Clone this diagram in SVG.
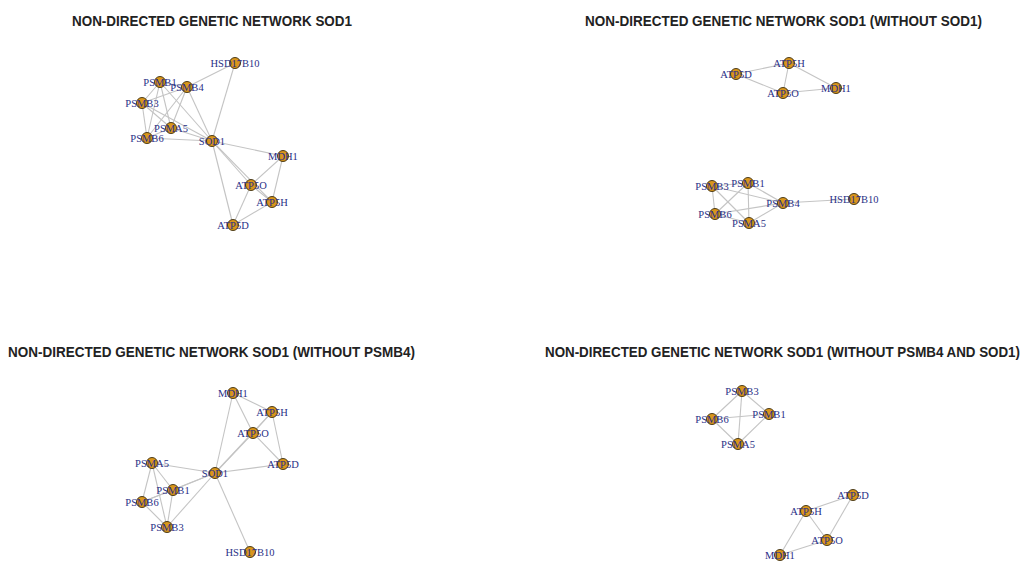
<svg xmlns="http://www.w3.org/2000/svg" width="1024" height="564" viewBox="0 0 1024 564">
<style>
.t{font-family:"Liberation Sans",Arial,sans-serif;font-weight:bold;font-size:15px;fill:#222}
.e line{stroke:#c4c4c4;stroke-width:1.1}
.n circle{fill:#D9961C;stroke:#3a2a08;stroke-width:0.9}
.n text{font-family:"Liberation Serif","Times New Roman",serif;font-size:10.5px;fill:#2a2f86;text-anchor:middle;dominant-baseline:central}
</style>
<rect width="1024" height="564" fill="#fff"/>
<text class="t" x="72" y="26" textLength="280" lengthAdjust="spacingAndGlyphs">NON-DIRECTED GENETIC NETWORK SOD1</text>
<text class="t" x="585" y="26" textLength="397" lengthAdjust="spacingAndGlyphs">NON-DIRECTED GENETIC NETWORK SOD1 (WITHOUT SOD1)</text>
<text class="t" x="8" y="357" textLength="407" lengthAdjust="spacingAndGlyphs">NON-DIRECTED GENETIC NETWORK SOD1 (WITHOUT PSMB4)</text>
<text class="t" x="545" y="357" textLength="475" lengthAdjust="spacingAndGlyphs">NON-DIRECTED GENETIC NETWORK SOD1 (WITHOUT PSMB4 AND SOD1)</text>

<g id="connectors" class="e">
<!-- panel 1 -->
<line x1="160" y1="82" x2="187" y2="87"/><line x1="160" y1="82" x2="142" y2="103"/>
<line x1="160" y1="82" x2="171" y2="128"/><line x1="160" y1="82" x2="147" y2="138"/>
<line x1="160" y1="82" x2="212" y2="141"/><line x1="187" y1="87" x2="142" y2="103"/>
<line x1="187" y1="87" x2="171" y2="128"/><line x1="187" y1="87" x2="147" y2="138"/>
<line x1="187" y1="87" x2="212" y2="141"/><line x1="187" y1="87" x2="235" y2="63"/>
<line x1="142" y1="103" x2="171" y2="128"/><line x1="142" y1="103" x2="147" y2="138"/>
<line x1="142" y1="103" x2="212" y2="141"/><line x1="171" y1="128" x2="147" y2="138"/>
<line x1="171" y1="128" x2="212" y2="141"/><line x1="147" y1="138" x2="212" y2="141"/>
<line x1="235" y1="63" x2="212" y2="141"/><line x1="212" y1="141" x2="283" y2="156"/>
<line x1="212" y1="141" x2="251" y2="185"/><line x1="212" y1="141" x2="272" y2="202"/>
<line x1="212" y1="141" x2="233" y2="225"/><line x1="283" y1="156" x2="251" y2="185"/>
<line x1="283" y1="156" x2="272" y2="202"/><line x1="251" y1="185" x2="272" y2="202"/>
<line x1="251" y1="185" x2="233" y2="225"/><line x1="272" y1="202" x2="233" y2="225"/>
<!-- panel 2 -->
<line x1="736" y1="74" x2="789" y2="63"/><line x1="736" y1="74" x2="783" y2="93"/>
<line x1="789" y1="63" x2="783" y2="93"/><line x1="789" y1="63" x2="836" y2="88"/>
<line x1="783" y1="93" x2="836" y2="88"/>
<line x1="712" y1="186" x2="748" y2="183"/><line x1="712" y1="186" x2="715" y2="214"/>
<line x1="712" y1="186" x2="749" y2="223"/><line x1="712" y1="186" x2="783" y2="203"/>
<line x1="748" y1="183" x2="715" y2="214"/><line x1="748" y1="183" x2="749" y2="223"/>
<line x1="748" y1="183" x2="783" y2="203"/><line x1="715" y1="214" x2="749" y2="223"/>
<line x1="715" y1="214" x2="783" y2="203"/><line x1="749" y1="223" x2="783" y2="203"/>
<line x1="783" y1="203" x2="854" y2="199"/>
<!-- panel 3 -->
<line x1="233" y1="393" x2="215" y2="473"/><line x1="233" y1="393" x2="253" y2="433"/>
<line x1="233" y1="393" x2="272" y2="412"/><line x1="272" y1="412" x2="253" y2="433"/>
<line x1="272" y1="412" x2="283" y2="464"/><line x1="253" y1="433" x2="283" y2="464"/>
<line x1="253" y1="433" x2="215" y2="473"/><line x1="272" y1="412" x2="215" y2="473"/>
<line x1="283" y1="464" x2="215" y2="473"/><line x1="215" y1="473" x2="152" y2="463"/>
<line x1="215" y1="473" x2="173" y2="490"/><line x1="215" y1="473" x2="142" y2="502"/>
<line x1="215" y1="473" x2="167" y2="527"/><line x1="215" y1="473" x2="250" y2="552"/>
<line x1="152" y1="463" x2="173" y2="490"/><line x1="152" y1="463" x2="142" y2="502"/>
<line x1="152" y1="463" x2="167" y2="527"/><line x1="173" y1="490" x2="142" y2="502"/>
<line x1="173" y1="490" x2="167" y2="527"/><line x1="142" y1="502" x2="167" y2="527"/>
<!-- panel 4 -->
<line x1="742" y1="391" x2="712" y2="419"/><line x1="742" y1="391" x2="769" y2="414"/>
<line x1="742" y1="391" x2="738" y2="444"/><line x1="712" y1="419" x2="769" y2="414"/>
<line x1="712" y1="419" x2="738" y2="444"/><line x1="769" y1="414" x2="738" y2="444"/>
<line x1="853" y1="495" x2="806" y2="511"/><line x1="853" y1="495" x2="827" y2="540"/>
<line x1="806" y1="511" x2="827" y2="540"/><line x1="806" y1="511" x2="780" y2="555"/>
<line x1="827" y1="540" x2="780" y2="555"/>
</g>

<g id="p1-hsd17b10" class="n"><circle cx="235" cy="63" r="5.5"/><text x="235" y="63">HSD17B10</text></g>
<g id="p1-psmb1" class="n"><circle cx="160" cy="82" r="5.5"/><text x="160" y="82">PSMB1</text></g>
<g id="p1-psmb4" class="n"><circle cx="187" cy="87" r="5.5"/><text x="187" y="87">PSMB4</text></g>
<g id="p1-psmb3" class="n"><circle cx="142" cy="103" r="5.5"/><text x="142" y="103">PSMB3</text></g>
<g id="p1-psma5" class="n"><circle cx="171" cy="128" r="5.5"/><text x="171" y="128">PSMA5</text></g>
<g id="p1-psmb6" class="n"><circle cx="147" cy="138" r="5.5"/><text x="147" y="138">PSMB6</text></g>
<g id="p1-sod1" class="n"><circle cx="212" cy="141" r="5.5"/><text x="212" y="141">SOD1</text></g>
<g id="p1-mdh1" class="n"><circle cx="283" cy="156" r="5.5"/><text x="283" y="156">MDH1</text></g>
<g id="p1-atp5o" class="n"><circle cx="251" cy="185" r="5.5"/><text x="251" y="185">ATP5O</text></g>
<g id="p1-atp5h" class="n"><circle cx="272" cy="202" r="5.5"/><text x="272" y="202">ATP5H</text></g>
<g id="p1-atp5d" class="n"><circle cx="233" cy="225" r="5.5"/><text x="233" y="225">ATP5D</text></g>

<g id="p2-atp5d" class="n"><circle cx="736" cy="74" r="5.5"/><text x="736" y="74">ATP5D</text></g>
<g id="p2-atp5h" class="n"><circle cx="789" cy="63" r="5.5"/><text x="789" y="63">ATP5H</text></g>
<g id="p2-atp5o" class="n"><circle cx="783" cy="93" r="5.5"/><text x="783" y="93">ATP5O</text></g>
<g id="p2-mdh1" class="n"><circle cx="836" cy="88" r="5.5"/><text x="836" y="88">MDH1</text></g>
<g id="p2-psmb3" class="n"><circle cx="712" cy="186" r="5.5"/><text x="712" y="186">PSMB3</text></g>
<g id="p2-psmb1" class="n"><circle cx="748" cy="183" r="5.5"/><text x="748" y="183">PSMB1</text></g>
<g id="p2-psmb6" class="n"><circle cx="715" cy="214" r="5.5"/><text x="715" y="214">PSMB6</text></g>
<g id="p2-psma5" class="n"><circle cx="749" cy="223" r="5.5"/><text x="749" y="223">PSMA5</text></g>
<g id="p2-psmb4" class="n"><circle cx="783" cy="203" r="5.5"/><text x="783" y="203">PSMB4</text></g>
<g id="p2-hsd17b10" class="n"><circle cx="854" cy="199" r="5.5"/><text x="854" y="199">HSD17B10</text></g>

<g id="p3-mdh1" class="n"><circle cx="233" cy="393" r="5.5"/><text x="233" y="393">MDH1</text></g>
<g id="p3-atp5h" class="n"><circle cx="272" cy="412" r="5.5"/><text x="272" y="412">ATP5H</text></g>
<g id="p3-atp5o" class="n"><circle cx="253" cy="433" r="5.5"/><text x="253" y="433">ATP5O</text></g>
<g id="p3-atp5d" class="n"><circle cx="283" cy="464" r="5.5"/><text x="283" y="464">ATP5D</text></g>
<g id="p3-sod1" class="n"><circle cx="215" cy="473" r="5.5"/><text x="215" y="473">SOD1</text></g>
<g id="p3-psma5" class="n"><circle cx="152" cy="463" r="5.5"/><text x="152" y="463">PSMA5</text></g>
<g id="p3-psmb1" class="n"><circle cx="173" cy="490" r="5.5"/><text x="173" y="490">PSMB1</text></g>
<g id="p3-psmb6" class="n"><circle cx="142" cy="502" r="5.5"/><text x="142" y="502">PSMB6</text></g>
<g id="p3-psmb3" class="n"><circle cx="167" cy="527" r="5.5"/><text x="167" y="527">PSMB3</text></g>
<g id="p3-hsd17b10" class="n"><circle cx="250" cy="552" r="5.5"/><text x="250" y="552">HSD17B10</text></g>

<g id="p4-psmb3" class="n"><circle cx="742" cy="391" r="5.5"/><text x="742" y="391">PSMB3</text></g>
<g id="p4-psmb6" class="n"><circle cx="712" cy="419" r="5.5"/><text x="712" y="419">PSMB6</text></g>
<g id="p4-psmb1" class="n"><circle cx="769" cy="414" r="5.5"/><text x="769" y="414">PSMB1</text></g>
<g id="p4-psma5" class="n"><circle cx="738" cy="444" r="5.5"/><text x="738" y="444">PSMA5</text></g>
<g id="p4-atp5d" class="n"><circle cx="853" cy="495" r="5.5"/><text x="853" y="495">ATP5D</text></g>
<g id="p4-atp5h" class="n"><circle cx="806" cy="511" r="5.5"/><text x="806" y="511">ATP5H</text></g>
<g id="p4-atp5o" class="n"><circle cx="827" cy="540" r="5.5"/><text x="827" y="540">ATP5O</text></g>
<g id="p4-mdh1" class="n"><circle cx="780" cy="555" r="5.5"/><text x="780" y="555">MDH1</text></g>
</svg>
